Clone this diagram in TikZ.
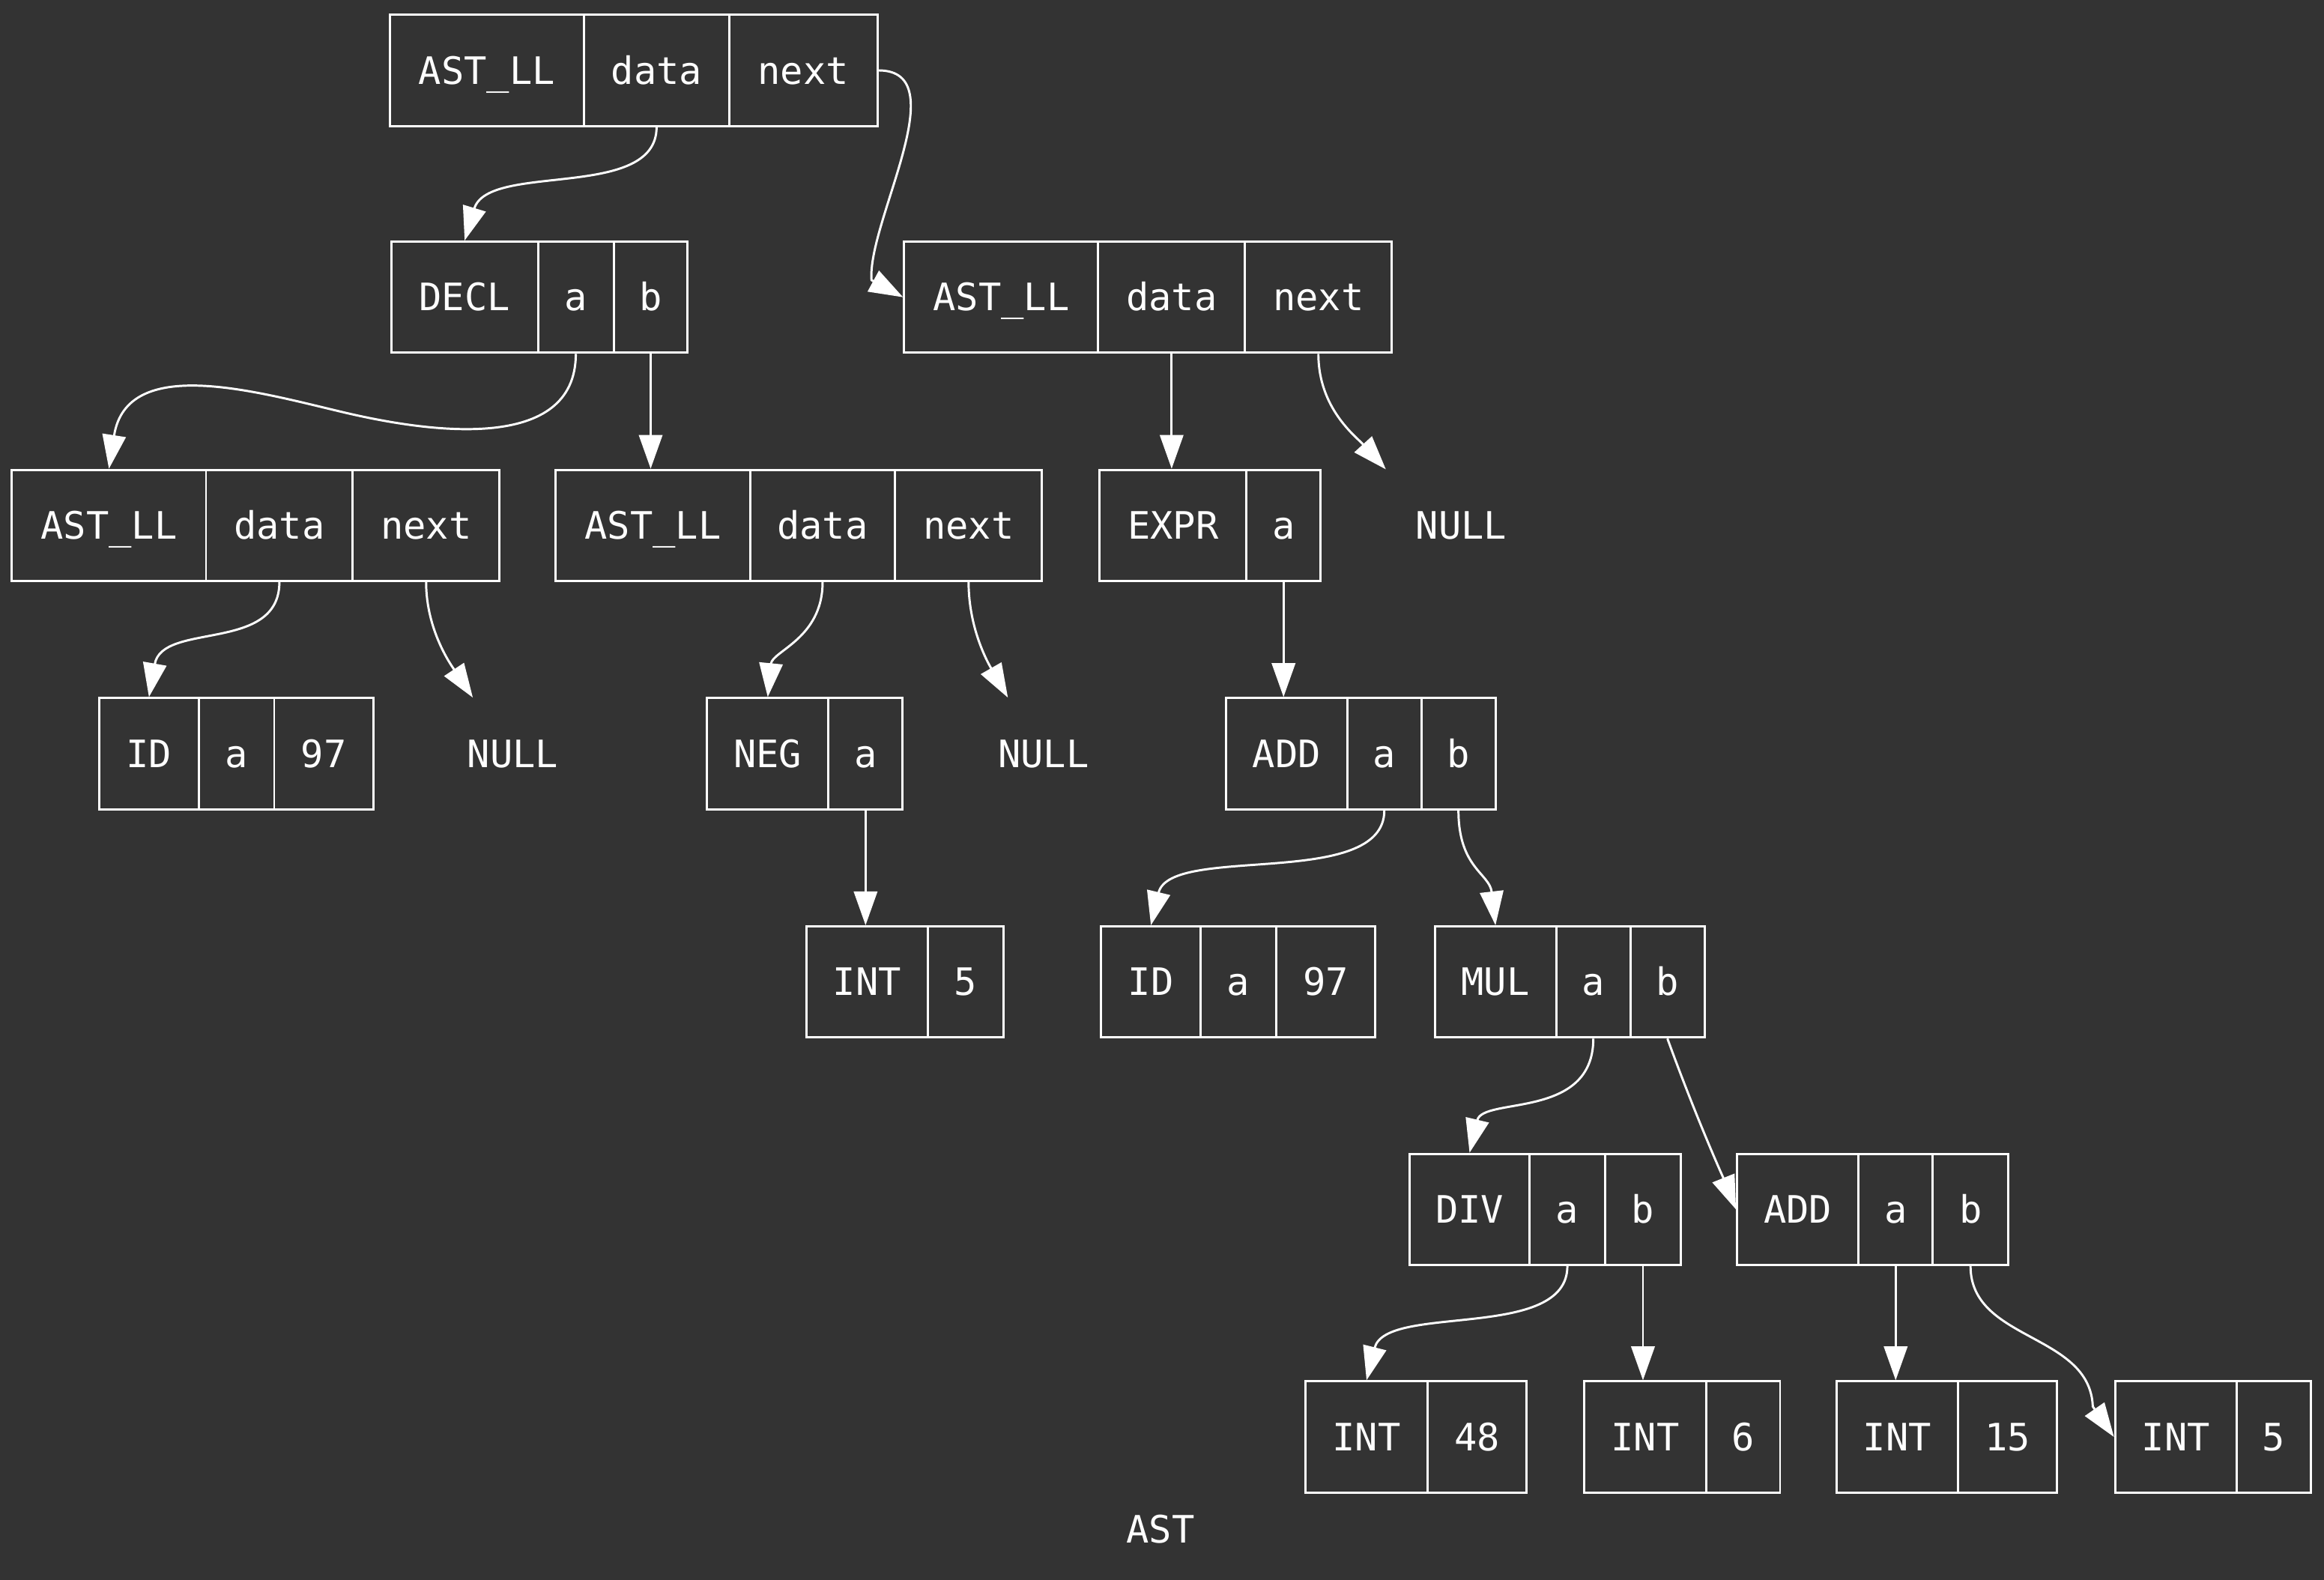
\documentclass[tikz,border=0pt]{standalone}
\usepackage{fontspec}
\newfontfamily\gvmono{DejaVu Sans Mono}
\usetikzlibrary{arrows.meta}
\definecolor{bgc}{HTML}{333333}
\tikzset{
  gvfont/.style={font=\gvmono\fontsize{14.5}{17}\selectfont, text=white, text height=10.5pt, text depth=0pt},
  fld/.style={gvfont, draw=white, line width=0.85pt, rectangle, inner sep=0pt, minimum height=1.5cm},
  plainnode/.style={gvfont, inner sep=0pt, minimum width=2.24cm, minimum height=1.5cm},
  edge/.style={draw=white, line width=0.85pt, -{Triangle[length=13pt,width=9pt]}},
}
\newcommand\fld[5]{\node[fld, minimum width={(#3-#2)*0.02cm}] (#1) at ({(#2+#3)/2},#4) {#5};}
\begin{document}
\begin{tikzpicture}[x=0.02cm,y=-0.02cm]
\fill[bgc] (0,0) rectangle (1568,1066);
\useasboundingbox (0,0) rectangle (1568,1066);
% row 1
\fld{r1t}{263}{394}{47.5}{AST\_LL}
\fld{r1d}{394}{492}{47.5}{data}
\fld{r1n}{492}{592}{47.5}{next}
% row 2
\fld{dc0}{264}{363}{200.5}{DECL}
\fld{dca}{363}{414}{200.5}{a}
\fld{dcb}{414}{464}{200.5}{b}
\fld{r2t}{610}{741}{200.5}{AST\_LL}
\fld{r2d}{741}{840}{200.5}{data}
\fld{r2n}{840}{939}{200.5}{next}
% row 3
\fld{r3t}{8}{139}{354.5}{AST\_LL}
\fld{r3d}{139}{238}{354.5}{data}
\fld{r3n}{238}{337}{354.5}{next}
\fld{r4t}{375}{506}{354.5}{AST\_LL}
\fld{r4d}{506}{604}{354.5}{data}
\fld{r4n}{604}{703}{354.5}{next}
\fld{ex0}{742}{841}{354.5}{EXPR}
\fld{exa}{841}{891}{354.5}{a}
\node[plainnode] (null1) at (986,354.5) {NULL};
% row 4
\fld{id1t}{67}{134}{508.5}{ID}
\fld{id1a}{134}{185}{508.5}{a}
\fld{id1v}{185}{252}{508.5}{97}
\node[plainnode] (null2) at (346,508.5) {NULL};
\fld{ng0}{477}{559}{508.5}{NEG}
\fld{nga}{559}{609}{508.5}{a}
\node[plainnode] (null3) at (704,508.5) {NULL};
\fld{ad0}{827}{909}{508.5}{ADD}
\fld{ada}{909}{959}{508.5}{a}
\fld{adb}{959}{1009}{508.5}{b}
% row 5
\fld{in1t}{544}{626}{662.5}{INT}
\fld{in1v}{626}{677}{662.5}{5}
\fld{id2t}{743}{810}{662.5}{ID}
\fld{id2a}{810}{861}{662.5}{a}
\fld{id2v}{861}{928}{662.5}{97}
\fld{mu0}{968}{1050}{662.5}{MUL}
\fld{mua}{1050}{1100}{662.5}{a}
\fld{mub}{1100}{1150}{662.5}{b}
% row 6
\fld{dv0}{951}{1032}{816}{DIV}
\fld{dva}{1032}{1083}{816}{a}
\fld{dvb}{1083}{1134}{816}{b}
\fld{ae0}{1172}{1254}{816}{ADD}
\fld{aea}{1254}{1304}{816}{a}
\fld{aeb}{1304}{1355}{816}{b}
% row 7
\fld{i48t}{881}{963}{969.5}{INT}
\fld{i48v}{963}{1030}{969.5}{48}
\fld{i6t}{1069}{1151}{969.5}{INT}
\fld{i6v}{1151}{1201}{969.5}{6}
\fld{i15t}{1239}{1321}{969.5}{INT}
\fld{i15v}{1321}{1388}{969.5}{15}
\fld{i5t}{1427}{1509}{969.5}{INT}
\fld{i5v}{1509}{1559}{969.5}{5}
% title
\node[gvfont, inner sep=0pt] (title) at (783,1032) {AST};
% via points
\coordinate (v2) at (588,189);
\coordinate (v3) at (231,278);
\coordinate (v20) at (1412,949);
% edges
\draw[edge] (r1d.south) .. controls +(0,50) and +(16,-53) .. (dc0.north);
\draw[edge] (r1n.east) .. controls +(53,0) and +(-3,-39) .. (v2) -- (r2t.west);
\draw[edge] (dca.south) .. controls +(0,67) and +(59,14) .. (v3) .. controls +(-59,-14) and +(12,-77) .. (r3t.north);
\draw[edge] (dcb.south) -- (dcb.south |- r4t.north);
\draw[edge] (r2d.south) -- (r2d.south |- ex0.north);
\draw[edge] (r2n.south) .. controls +(0,37) and +(-20,-22) .. ([xshift=-1.02cm]null1.north);
\draw[edge] (r3d.south) .. controls +(0,48) and +(9,-51) .. (id1t.north);
\draw[edge] (r3n.south) .. controls +(0,33) and +(-14,-21) .. ([xshift=-0.54cm]null2.north);
\draw[edge] (r4d.south) .. controls +(0,38) and +(3,-31) .. (ng0.north);
\draw[edge] (r4n.south) .. controls +(0,33) and +(-12,-21) .. ([xshift=-0.48cm]null3.north);
\draw[edge] (exa.south) -- (exa.south |- ad0.north);
\draw[edge] (nga.south) -- (nga.south |- in1t.north);
\draw[edge] (ada.south) .. controls +(0,54) and +(13,-55) .. (id2t.north);
\draw[edge] (adb.south) .. controls +(0,39) and +(-4,-35) .. (mu0.north);
\draw[edge] (mua.south) .. controls +(0,55) and +(9,-38) .. (dv0.north);
\draw[edge] (mub.south) .. controls +(20,55) and +(-8,-20) .. (ae0.west);
\draw[edge] (dva.south) .. controls +(0,51) and +(13,-52) .. (i48t.north);
\draw[edge] (dvb.south) -- (dvb.south |- i6t.north);
\draw[edge] (aea.south) -- (aea.south |- i15t.north);
\draw[edge] (aeb.south) .. controls +(0,51) and +(-2,-50) .. (v20) -- (i5t.west);
\end{tikzpicture}
\end{document}
